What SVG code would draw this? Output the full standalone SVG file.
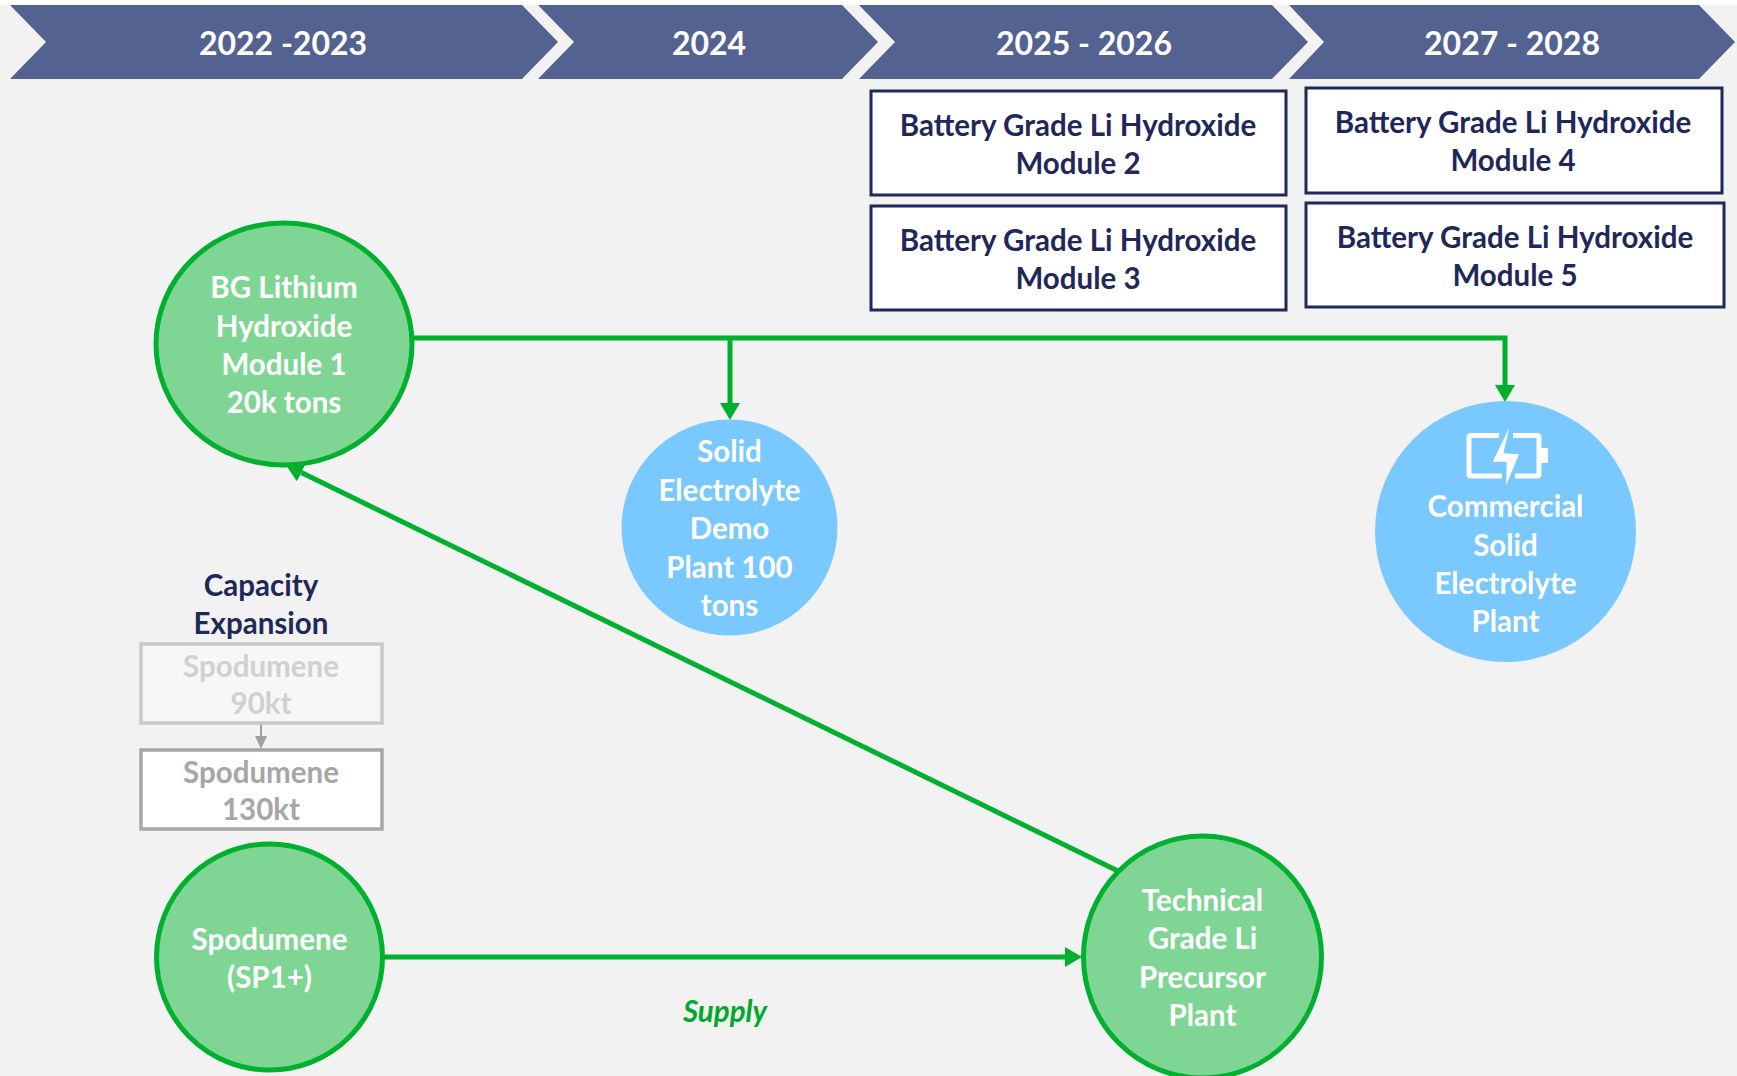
<svg xmlns="http://www.w3.org/2000/svg" width="1737" height="1076" viewBox="0 0 1737 1076">
<style>
  .t{font-family:Lato,"Open Sans","Liberation Sans",sans-serif;font-weight:700;text-anchor:middle}
  .ban{fill:#546291}
  .bt{font-size:32px;fill:#ffffff}
  .box{fill:#ffffff;stroke:#1F2859;stroke-width:3}
  .bx{font-size:29.5px;fill:#1F2859}
  .wt{font-size:29.5px;fill:#ffffff}
  .gc{fill:#7FD694;stroke:#00B02E;stroke-width:5}
  .bc{fill:#79C8FF}
  .con{fill:none;stroke:#00B02E;stroke-width:5}
  .s{font-size:29.5px}
</style>
<defs>
  <marker id="ah" markerUnits="userSpaceOnUse" viewBox="0 0 17 20" refX="0" refY="10" markerWidth="17" markerHeight="20" orient="auto">
    <path d="M0,0 L17,10 L0,20 Z" fill="#00B02E"/>
  </marker>
  <marker id="ahg" markerUnits="userSpaceOnUse" viewBox="0 0 13 12" refX="0" refY="6" markerWidth="13" markerHeight="12" orient="auto">
    <path d="M0,0 L13,6 L0,12 Z" fill="#A0A0A0"/>
  </marker>
</defs>
<rect x="0" y="0" width="1737" height="1076" fill="#F2F2F2"/>
<rect x="0" y="0" width="1737" height="5" fill="#ffffff"/>

<g id="timeline">
  <polygon class="ban" points="10,5 522,5 558,42 522,79 10,79 46,42"/>
  <polygon class="ban" points="538,5 842,5 878,42 842,79 538,79 574,42"/>
  <polygon class="ban" points="859,5 1272,5 1308,42 1272,79 859,79 895,42"/>
  <polygon class="ban" points="1289,5 1699,5 1735,42 1699,79 1289,79 1324,42"/>
  <text class="t bt" x="283" y="55">2022 -2023</text>
  <text class="t bt" x="709" y="55">2024</text>
  <text class="t bt" x="1084" y="55">2025 - 2026</text>
  <text class="t bt" x="1512" y="55">2027 - 2028</text>
</g>

<g id="module2">
  <rect class="box" x="871" y="91" width="415" height="104"/>
  <text class="t bx" x="1078" y="136">Battery Grade Li Hydroxide</text>
  <text class="t bx" x="1078" y="174">Module 2</text>
</g>
<g id="module3">
  <rect class="box" x="871" y="206" width="415" height="104"/>
  <text class="t bx" x="1078" y="251">Battery Grade Li Hydroxide</text>
  <text class="t bx" x="1078" y="289">Module 3</text>
</g>
<g id="module4">
  <rect class="box" x="1306" y="88" width="416" height="105"/>
  <text class="t bx" x="1513" y="133">Battery Grade Li Hydroxide</text>
  <text class="t bx" x="1513" y="171">Module 4</text>
</g>
<g id="module5">
  <rect class="box" x="1306" y="203" width="418" height="104"/>
  <text class="t bx" x="1515" y="248">Battery Grade Li Hydroxide</text>
  <text class="t bx" x="1515" y="286">Module 5</text>
</g>

<g id="connectors">
  <path class="con" d="M413,338 H1505 V385" marker-end="url(#ah)"/>
  <path class="con" d="M730,338 V403" marker-end="url(#ah)"/>
  <path class="con" d="M384,957 H1065" marker-end="url(#ah)"/>
  <path class="con" d="M1119.5,871.7 L301.3,472.5" marker-end="url(#ah)"/>
  <path d="M261,724 V736" fill="none" stroke="#A0A0A0" stroke-width="2" marker-end="url(#ahg)"/>
</g>

<g id="bg-module1">
  <ellipse class="gc" cx="284" cy="344" rx="128" ry="121"/>
  <text class="t wt" x="284" y="298">BG Lithium</text>
  <text class="t wt" x="284" y="337">Hydroxide</text>
  <text class="t wt" x="284" y="375">Module 1</text>
  <text class="t wt" x="284" y="413">20k tons</text>
</g>

<g id="solid-demo">
  <circle class="bc" cx="729.5" cy="527.5" r="108"/>
  <text class="t wt" x="729.5" y="462">Solid</text>
  <text class="t wt" x="729.5" y="501">Electrolyte</text>
  <text class="t wt" x="729.5" y="539">Demo</text>
  <text class="t wt" x="729.5" y="578">Plant 100</text>
  <text class="t wt" x="729.5" y="616">tons</text>
</g>

<g id="commercial">
  <circle class="bc" cx="1505.5" cy="531.5" r="130.5"/>
  <g fill="none" stroke="#ffffff" stroke-width="5" stroke-linecap="butt">
    <path d="M1499,435.5 H1471 Q1469,435.5 1469,437.5 V474 Q1469,476 1471,476 H1502"/>
    <path d="M1513,435.5 H1537 Q1539,435.5 1539,437.5 V474 Q1539,476 1537,476 H1515"/>
  </g>
  <rect x="1541" y="448" width="7" height="15" fill="#ffffff"/>
  <polygon points="1509.3,427.7 1503.3,453.3 1519,454.3 1506,485.7 1506.7,461.7 1492.7,461.7" fill="#ffffff"/>
  <text class="t wt" x="1505.5" y="517">Commercial</text>
  <text class="t wt" x="1505.5" y="556">Solid</text>
  <text class="t wt" x="1505.5" y="594">Electrolyte</text>
  <text class="t wt" x="1505.5" y="632">Plant</text>
</g>

<g id="capacity-expansion">
  <text class="t s" fill="#1F2859" x="261" y="596">Capacity</text>
  <text class="t s" fill="#1F2859" x="261" y="634">Expansion</text>
</g>
<g id="spod-90">
  <rect x="141" y="644" width="241" height="79" fill="#F7F7F7" stroke="#C8C8C8" stroke-width="3.5"/>
  <text class="t s" fill="#D0D0D0" x="261" y="677">Spodumene</text>
  <text class="t s" fill="#D0D0D0" x="261" y="714">90kt</text>
</g>
<g id="spod-130">
  <rect x="141" y="750" width="241" height="79" fill="#ffffff" stroke="#A6A6A6" stroke-width="3.5"/>
  <text class="t s" fill="#A6A6A6" x="261" y="783">Spodumene</text>
  <text class="t s" fill="#A6A6A6" x="261" y="820">130kt</text>
</g>

<g id="spodumene">
  <circle class="gc" cx="269.5" cy="957" r="113"/>
  <text class="t wt" x="269.5" y="950">Spodumene</text>
  <text class="t wt" x="269.5" y="988">(SP1+)</text>
</g>

<g id="technical">
  <ellipse class="gc" cx="1202.5" cy="957" rx="119" ry="121"/>
  <text class="t wt" x="1202.5" y="911">Technical</text>
  <text class="t wt" x="1202.5" y="949">Grade Li</text>
  <text class="t wt" x="1202.5" y="988">Precursor</text>
  <text class="t wt" x="1202.5" y="1026">Plant</text>
</g>

<text id="supply-label" class="t s" fill="#00A82C" font-style="italic" x="725" y="1022">Supply</text>
</svg>
